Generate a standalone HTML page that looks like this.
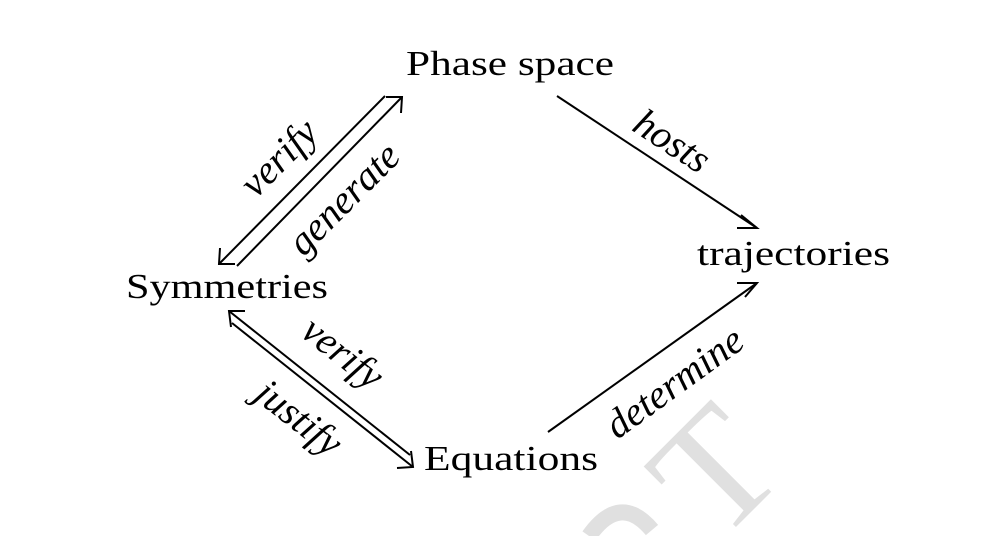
<!DOCTYPE html>
<html><head><meta charset="utf-8"><style>
html,body{margin:0;padding:0;background:#fff;width:1007px;height:536px;overflow:hidden;}
svg{display:block;overflow:hidden;}
.n{font-family:"Liberation Serif",serif;font-size:35px;fill:#000;}
.l{font-family:"Liberation Serif",serif;font-style:italic;font-size:40px;fill:#000;}
.e{stroke:#000;stroke-width:2;fill:none;}
</style></head><body>
<svg width="1007" height="536" viewBox="0 0 1007 536">
<defs><clipPath id="frame"><rect x="0" y="0" width="1007" height="536"/></clipPath></defs>
<g fill="#e0e0e0" clip-path="url(#frame)">
<text x="0" y="0" font-family="Liberation Serif,serif" font-size="165" transform="translate(718,545) rotate(-45)">T</text>
<path d="M589,536 Q620,492 652,530" fill="none" stroke="#e0e0e0" stroke-width="16"/>
</g>
<text class="n" x="406" y="75" textLength="208" lengthAdjust="spacingAndGlyphs">Phase space</text>
<text class="n" x="697" y="265" textLength="193" lengthAdjust="spacingAndGlyphs">trajectories</text>
<text class="n" x="126" y="298" textLength="202" lengthAdjust="spacingAndGlyphs">Symmetries</text>
<text class="n" x="424" y="470" textLength="174" lengthAdjust="spacingAndGlyphs">Equations</text>

<g>
<line class="e" x1="557" y1="96" x2="757" y2="228"/>
<polyline class="e" points="741,215 757,228 737,228"/>
</g>
<g>
<line class="e" x1="548" y1="432" x2="757" y2="283"/>
<polyline class="e" points="737,283 757,283 745,297"/>
</g>
<g>
<line class="e" x1="385" y1="96" x2="219" y2="264"/>
<polyline class="e" points="220,248 219,264 235,264"/>
</g>
<g>
<line class="e" x1="237" y1="266" x2="402" y2="97"/>
<polyline class="e" points="386,97 402,97 401,113"/>
</g>
<g>
<line class="e" x1="229" y1="311" x2="410" y2="455"/>
<polyline class="e" points="231,327 229,311 245,311"/>
</g>
<g>
<line class="e" x1="232" y1="323" x2="413" y2="467"/>
<polyline class="e" points="411,451 413,467 397,468"/>
</g>

<text class="l" text-anchor="middle" transform="translate(288,167) rotate(-45)">verify</text>
<text class="l" text-anchor="middle" transform="translate(353,208) rotate(-45)">generate</text>
<text class="l" text-anchor="middle" transform="translate(665,152) rotate(33)">hosts</text>
<text class="l" text-anchor="middle" transform="translate(335,363) rotate(38)">verify</text>
<text class="l" text-anchor="middle" transform="translate(291,428) rotate(38)">justify</text>
<text class="l" text-anchor="middle" transform="translate(682,393) rotate(-36)">determine</text>
</svg>
</body></html>
